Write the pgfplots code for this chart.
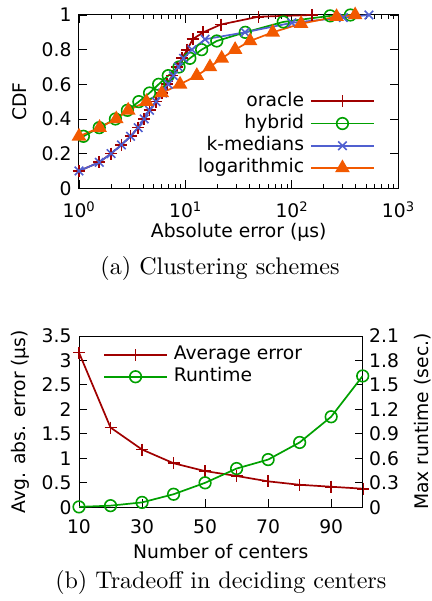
\documentclass[border=0pt]{standalone}
\usepackage{fontspec}
\usepackage{pgfplots}
\pgfplotsset{compat=1.18}
\newfontfamily\plotfont{DejaVu Sans}
\definecolor{cRed}{HTML}{A00000}
\definecolor{cGreen}{HTML}{00A000}
\definecolor{cBlue}{HTML}{5060D0}
\definecolor{cOrange}{HTML}{F25900}
\newcommand{\pf}{\plotfont\fontsize{18.8}{22}\selectfont}
\pgfplotsset{
  gp/.style={
    scale only axis,
    anchor=south west,
    /pgf/number format/assume math mode=true,
    tick align=inside,
    major tick length=8bp,
    minor tick length=4bp,
    axis line style={line width=1bp},
    every tick/.style={black,line width=0.9bp},
    every tick label/.append style={font=\pf},
    label style={font=\pf},
    legend style={font=\pf, draw=none, fill=none, inner sep=0pt,
      nodes={inner sep=1bp, text height=14bp, text depth=4.5bp}},
    legend image code/.code={\draw[mark repeat=2,mark phase=2] plot coordinates {(0bp,0bp) (31.5bp,0bp) (63bp,0bp)};},
  },
  sOracle/.style={cRed, line width=1.7bp, mark=+, mark size=6bp, mark options={solid,line width=1.7bp}},
  sHybrid/.style={cGreen, line width=1.7bp, mark=o, mark size=5.8bp, mark options={solid,line width=1.6bp}},
  sKmed/.style={cBlue, line width=1.7bp, mark=x, mark size=6bp, mark options={solid,line width=1.6bp}},
  sLog/.style={cOrange, line width=1.7bp, mark=triangle*, mark size=6.8bp, mark options={solid,fill=cOrange}},
}
\begin{document}
\begin{tikzpicture}
\useasboundingbox (0,0) rectangle (432bp,601bp);
% ---------------- (a) ----------------
\begin{axis}[gp,
  at={(79bp,412.7bp)}, width=319.3bp, height=173.3bp,
  xmode=log, xmin=1, xmax=1000, ymin=0, ymax=1,
  xtick={1,10,100,1000},
  xticklabels={10\textsuperscript{0},10\textsuperscript{1},10\textsuperscript{2},10\textsuperscript{3}},
  ytick={0,0.2,0.4,0.6,0.8,1},
  yticklabels={0,0.2,0.4,0.6,0.8,1},
  yticklabel style={xshift=-4bp},
  xticklabel style={yshift=-10bp},
  xlabel={Absolute error (µs)}, ylabel={CDF},
  xlabel style={at={(axis description cs:0.5,-0.252)}, anchor=center},
  ylabel style={at={(axis description cs:-0.185,0.5)}, anchor=center},
  legend plot pos=right,
  legend cell align=right,
  legend style={at={(1,0)}, anchor=south east, xshift=-23.3bp, yshift=9.9bp, row sep=1.7bp, column sep=5bp},
]
\addplot[sOracle] coordinates {(1,0.10) (1.55,0.15) (2.0,0.20) (2.5,0.25) (3.05,0.30) (3.6,0.35) (4.1,0.40) (4.6,0.45) (5.3,0.50) (6.0,0.55) (6.7,0.60) (7.5,0.65) (8.3,0.70) (9.3,0.75) (10.4,0.80) (11.7,0.86) (14.7,0.90) (21.5,0.945) (48.5,0.99) (154,1.0)};
\addlegendentry{oracle}
\addplot[sHybrid] coordinates {(1.1,0.30) (1.55,0.35) (2.2,0.40) (2.85,0.45) (3.65,0.50) (4.6,0.55) (5.6,0.60) (6.9,0.65) (8.7,0.70) (11,0.75) (14.2,0.80) (19.7,0.85) (36.5,0.90) (83,0.96) (229,0.995) (355,1.0)};
\addlegendentry{hybrid}
\addplot[sKmed] coordinates {(1,0.10) (1.55,0.15) (2.0,0.20) (2.5,0.25) (3.05,0.30) (3.6,0.35) (4.1,0.40) (4.6,0.45) (5.3,0.50) (6.1,0.55) (6.9,0.60) (7.7,0.65) (8.6,0.70) (9.6,0.75) (11.5,0.80) (15.3,0.86) (36.3,0.90) (100,0.955) (305,0.985) (530,1.0)};
\addlegendentry{k-medians}
\addplot[sLog] coordinates {(1.0,0.30) (1.56,0.35) (2.24,0.40) (2.9,0.45) (4.3,0.50) (6.0,0.55) (8.9,0.60) (12.8,0.65) (17,0.70) (21.9,0.75) (29.3,0.80) (40.5,0.85) (66,0.90) (122,0.95) (263,0.99) (393,1.0)};
\addlegendentry{logarithmic}
\end{axis}
\node[scale=2.415, inner sep=0pt] at (220bp,333bp) {\fontsize{10}{12}\selectfont (a) Clustering schemes};
% ---------------- (b) ----------------
\begin{axis}[gp,
  at={(79bp,93.7bp)}, width=283.7bp, height=171.3bp,
  xmin=10, xmax=100, ymin=0, ymax=3.5,
  xtick={10,30,50,70,90}, xticklabels={10,30,50,70,90},
  ytick={0,0.5,1,1.5,2,2.5,3,3.5},
  yticklabels={0,0.5,1,1.5,2,2.5,3,3.5},
  xtick pos=bottom, ytick pos=left,
  yticklabel style={xshift=-4bp},
  xticklabel style={yshift=-9bp},
  xlabel={Number of centers}, ylabel={Avg. abs. error (µs)},
  xlabel style={at={(axis description cs:0.5,-0.261)}, anchor=center},
  ylabel style={at={(axis description cs:-0.208,0.5)}, anchor=center},
]
\addplot[sOracle] coordinates {(10,3.16) (20,1.63) (30,1.18) (40,0.90) (50,0.74) (60,0.64) (70,0.53) (80,0.46) (90,0.42) (100,0.38)};
\end{axis}
\begin{axis}[gp,
  at={(79bp,93.7bp)}, width=283.7bp, height=171.3bp,
  xmin=10, xmax=100, ymin=0, ymax=2.1,
  axis x line=none, axis y line*=right,
  ytick={0,0.3,0.6,0.9,1.2,1.5,1.8,2.1},
  yticklabels={0,0.3,0.6,0.9,1.2,1.5,1.8,2.1},
  ytick pos=right,
  yticklabel style={xshift=3bp},
  ylabel={Max runtime (sec.)},
  ylabel style={at={(axis description cs:1.2126,0.5)}, anchor=center},
  legend cell align=left,
  legend style={at={(0,1)}, anchor=north west, xshift=24bp, yshift=-8.6bp, row sep=1.2bp, column sep=5bp},
]
\addlegendimage{sOracle}
\addlegendentry{Average error}
\addplot[sHybrid] coordinates {(10,0.005) (20,0.02) (30,0.06) (40,0.16) (50,0.30) (60,0.475) (70,0.585) (80,0.795) (90,1.11) (100,1.61)};
\addlegendentry{Runtime}
\end{axis}
\node[scale=2.415, inner sep=0pt] at (220.8bp,19bp) {\fontsize{10}{12}\selectfont (b) Tradeoff in deciding centers};
\end{tikzpicture}
\end{document}
